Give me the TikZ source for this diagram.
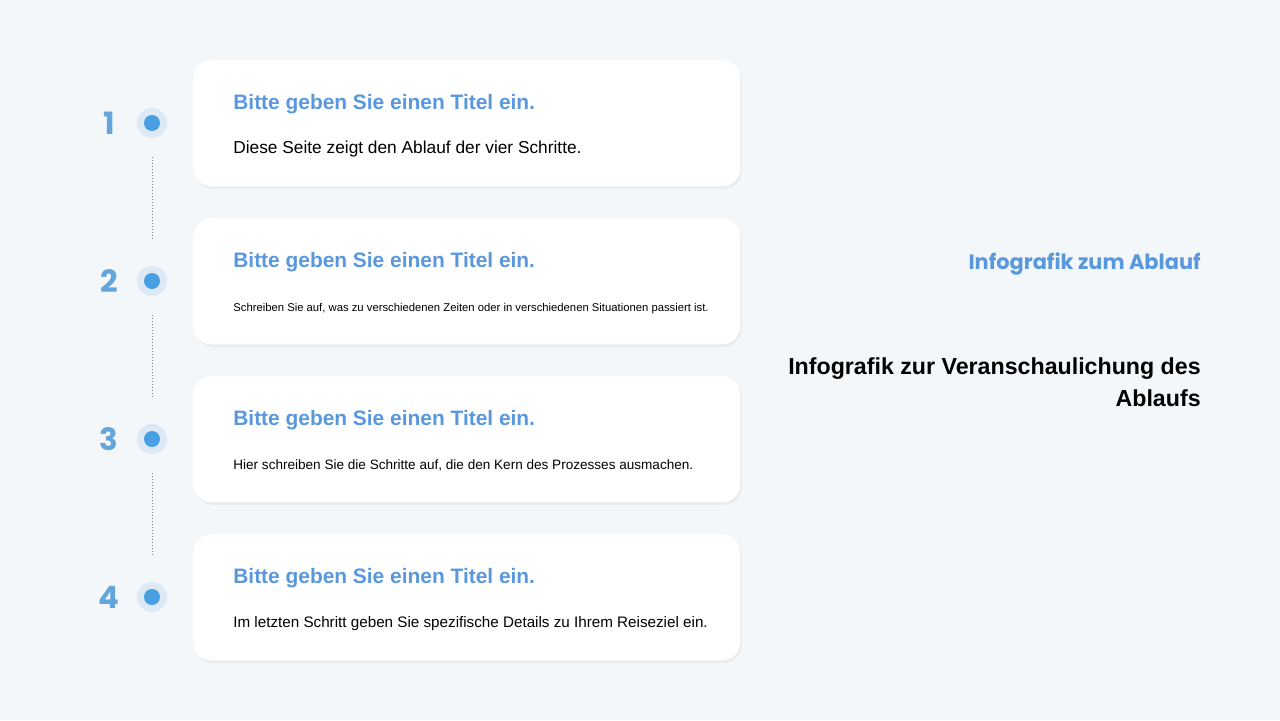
\documentclass[tikz,border=0pt]{standalone}
\usepackage{fontspec}
\setmainfont{Liberation Sans}
\newfontfamily\popfont{Poppins}
\usetikzlibrary{%
  calc,%
  shadows%
}
\definecolor{bgcol}{RGB}{244,247,250}
\definecolor{titleblue}{RGB}{90,152,222}
\definecolor{numblue}{RGB}{98,166,220}
\definecolor{dotblue}{RGB}{72,160,226}
\definecolor{ringblue}{RGB}{221,233,245}
\definecolor{dotgray}{RGB}{120,130,160}
\tikzset{
  card/.style={rectangle,fill=white,rounded corners=0.36cm,
    minimum width=10.94cm,minimum height=2.52cm,anchor=north west,
    drop shadow={shadow xshift=0.03cm,shadow yshift=-0.05cm,opacity=0.07,fill=black!60}},
  cardtitle/.style={anchor=mid west,inner sep=0pt,text=titleblue,
    font=\fontsize{11.9}{14}\selectfont\bfseries},
  cardtext/.style={anchor=mid west,inner sep=0pt,text=black,
    font=\fontsize{9.8}{12}\selectfont},
  ring/.style={circle,fill=ringblue,minimum size=0.6cm,inner sep=0pt},
  knob/.style={circle,fill=dotblue,minimum size=0.32cm,inner sep=0pt},
  stepnum/.style={text=numblue,font=\fontsize{17.5}{21}\selectfont\popfont\bfseries,inner sep=0pt},
  dotline/.style={draw=dotgray,line width=0.55pt,dash pattern=on 0.55pt off 1.15pt,
    shorten <=0.38cm,shorten >=0.52cm}
}

\begin{document}
\begin{tikzpicture}[x=0.02cm,y=-0.02cm]
    \fill[bgcol] (0,0) rectangle (1280,720);
    \useasboundingbox (0,0) rectangle (1280,720);
    \foreach \i/\y/\txt/\fs in {%
      1/60/{Diese Seite zeigt den Ablauf der vier Schritte.}/9.85,%
      2/218/{Schreiben Sie auf, was zu verschiedenen Zeiten oder in verschiedenen Situationen passiert ist.}/6.42,%
      3/376/{Hier schreiben Sie die Schritte auf, die den Kern des Prozesses ausmachen.}/7.72,%
      4/534/{Im letzten Schritt geben Sie spezifische Details zu Ihrem Reiseziel ein.}/8.66} {
      \node[card] (card\i) at (193,\y) {};
      \node[cardtitle] (title\i) at ($(233,\y)+(0,45)$) {Bitte geben Sie einen Titel ein.};
      \node[cardtext,font=\fontsize{\fs}{12}\selectfont] (text\i) at ($(233,\y)+(0,89)$) {\txt};
      \node[ring] (ring\i) at ($(152,\y)+(0,63)$) {};
      \node[knob] (knob\i) at (ring\i) {};
      \node[stepnum] (num\i) at ($(109,\y)+(0,63)$) {\i};
    }
    \draw[dotline] (ring1) -- (ring2);
    \draw[dotline] (ring2) -- (ring3);
    \draw[dotline] (ring3) -- (ring4);
    \node[anchor=mid east,inner sep=0pt,text=titleblue,
      font=\fontsize{11.9}{14}\selectfont\popfont\bfseries] (subhead) at (1201,265) {Infografik zum Ablauf};
    \node[anchor=north east,align=right,inner sep=0pt,
      font=\fontsize{13.2}{18.2}\selectfont\bfseries] (head) at (1201,357)
      {Infografik zur Veranschaulichung des\\Ablaufs};
  \end{tikzpicture}
\end{document}
